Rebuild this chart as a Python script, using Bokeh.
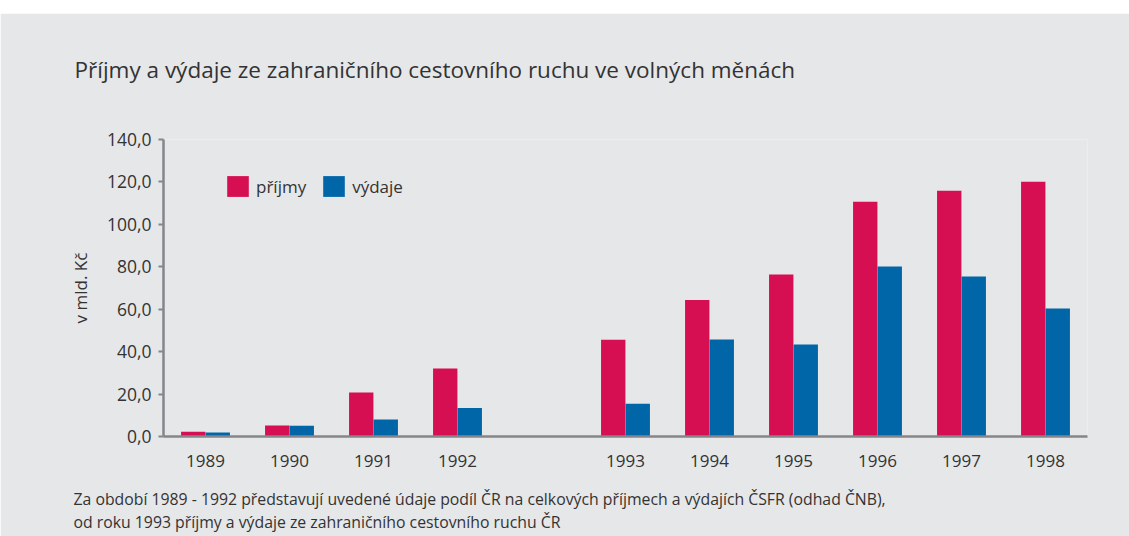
from bokeh.plotting import figure
from bokeh.models import FactorRange, Range1d, FixedTicker, Title, ColumnDataSource, Spacer
from bokeh.transform import dodge
from bokeh.layouts import column
from bokeh.embed import file_html
from bokeh.resources import INLINE

# ---- data ----
years = ["1989", "1990", "1991", "1992", "1993", "1994", "1995", "1996", "1997", "1998"]
prijmy = [2.2, 5.2, 20.7, 32.0, 45.6, 64.3, 76.4, 110.6, 115.8, 120.1]
vydaje = [1.9, 5.1, 8.0, 13.4, 15.4, 45.7, 43.4, 80.1, 75.4, 60.3]
y_ticks = [0, 20, 40, 60, 80, 100, 120, 140]
y_tick_labels = ["0,0", "20,0", "40,0", "60,0", "80,0", "100,0", "120,0", "140,0"]
series_names = ["příjmy", "výdaje"]
title_text = "Příjmy a výdaje ze zahraničního cestovního ruchu ve volných měnách"
y_label = "v mld. Kč"
note_lines = [
    "Za období 1989 - 1992 představují uvedené údaje podíl ČR na celkových příjmech a výdajích ČSFR (odhad ČNB),",
    "od roku 1993 příjmy a výdaje ze zahraničního cestovního ruchu ČR",
]

# factors with a blank gap between 1992 and 1993
factors = years[:4] + [" "] + years[4:]

BG = "#e6e7e9"
MAGENTA = "#d50f52"
BLUE = "#0066a8"
TXT = "#333333"
AXIS = "#858689"
FONT = "Open Sans"

src = ColumnDataSource(data=dict(year=years, prijmy=prijmy, vydaje=vydaje))

p = figure(
    width=1129, height=523,
    x_range=FactorRange(factors=factors),
    y_range=Range1d(0, 140),
    output_backend="svg", toolbar_location=None,
    min_border_left=163, min_border_right=42,
    min_border_top=126, min_border_bottom=100,
)
p.background_fill_color = BG
p.border_fill_color = BG
p.outline_line_color = None
p.xgrid.grid_line_color = None
p.ygrid.grid_line_color = None

p.vbar(x=dodge("year", -0.146, range=p.x_range), top="prijmy", width=0.29,
       source=src, fill_color=MAGENTA, line_color=None, legend_label=series_names[0])
p.vbar(x=dodge("year", 0.146, range=p.x_range), top="vydaje", width=0.29,
       source=src, fill_color=BLUE, line_color=None, legend_label=series_names[1])

# y axis
ya = p.yaxis[0]
ya.ticker = FixedTicker(ticks=y_ticks)
ya.major_label_overrides = {t: l for t, l in zip(y_ticks, y_tick_labels)}
ya.minor_tick_line_color = None
ya.major_tick_in = 0
ya.major_tick_out = 5
ya.major_tick_line_color = AXIS
ya.major_tick_line_width = 2
ya.axis_line_color = AXIS
ya.axis_line_width = 2.5
ya.major_label_text_font = FONT
ya.major_label_text_font_size = "17.5px"
ya.major_label_text_color = TXT
ya.major_label_standoff = 7
ya.axis_label = y_label
ya.axis_label_text_font = FONT
ya.axis_label_text_font_size = "17px"
ya.axis_label_text_font_style = "normal"
ya.axis_label_text_color = TXT
ya.axis_label_standoff = 12

# x axis
xa = p.xaxis[0]
xa.major_tick_line_color = None
xa.minor_tick_line_color = None
xa.axis_line_color = AXIS
xa.axis_line_width = 2.5
xa.major_label_text_font = FONT
xa.major_label_text_font_size = "17px"
xa.major_label_text_color = TXT
xa.major_label_standoff = 6

# legend
lg = p.legend[0]
lg.orientation = "horizontal"
lg.location = (61, 237)
lg.background_fill_alpha = 0
lg.border_line_color = None
lg.padding = 0
lg.margin = 0
lg.spacing = 14
lg.glyph_width = 27
lg.glyph_height = 26
lg.label_height = 26
lg.label_standoff = 5
lg.label_text_font = FONT
lg.label_text_font_size = "17px"
lg.label_text_color = TXT

# title above the frame: an empty spacer panel next to the frame, then the title
p.add_layout(Title(text=" ", text_font_size="1px", standoff=52), "above")
p.add_layout(Title(text=title_text, align="left", offset=-89, standoff=0,
                   text_font=FONT, text_font_size="22.5px", text_font_style="normal",
                   text_color=TXT), "above")
# note lines below the x axis (spacer panel, then two-line text)
p.add_layout(Title(text=" ", text_font_size="1px", standoff=9), "below")
p.add_layout(Title(text="\n".join(note_lines), align="left", offset=-90, standoff=0,
                   text_font=FONT, text_font_size="15.8px", text_font_style="normal",
                   text_line_height=1.05, text_color=TXT), "below")

layout = column(Spacer(height=13, width=1129), p)
open("out.html", "w").write(file_html(layout, INLINE))
